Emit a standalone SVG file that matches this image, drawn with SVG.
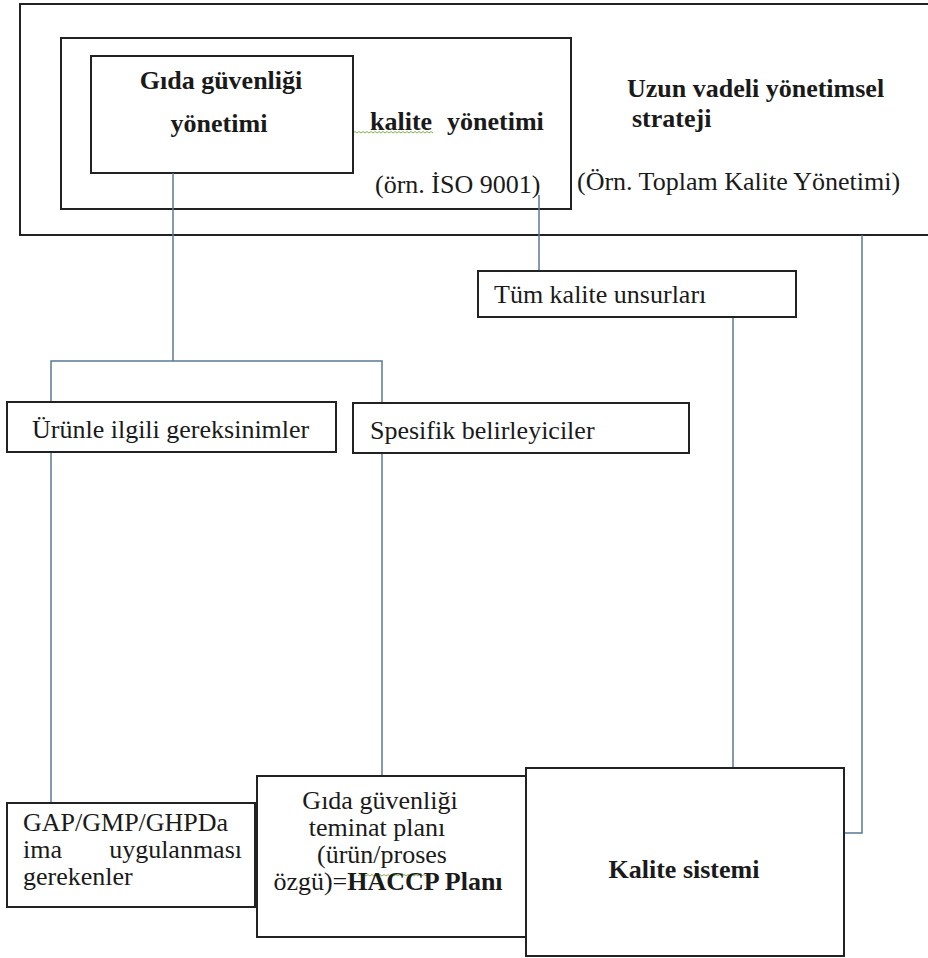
<svg xmlns="http://www.w3.org/2000/svg" width="928" height="958" viewBox="0 0 928 958">
<style>
.box{fill:#fff;stroke:#222;stroke-width:2}
.frame{fill:none;stroke:#222;stroke-width:2}
text{font-family:'Liberation Serif','DejaVu Serif',serif;font-size:26px;fill:#1a1a1a}
.b{font-weight:bold}
.c{text-anchor:middle}
.e{text-anchor:end}
.con{fill:none;stroke:#5b7896;stroke-width:1.5}
.sq{fill:none;stroke:#7fb34a;stroke-width:1}
</style>
<rect width="928" height="958" fill="#fff"/>
<g id="strategy">
<rect class="frame" x="20" y="4" width="930" height="231"/>
<text class="b" x="627" y="97">Uzun vadeli yönetimsel</text>
<text class="b" x="632" y="127">strateji</text>
<text x="577" y="190">(Örn. Toplam Kalite Yönetimi)</text>
</g>
<g id="quality-management">
<rect class="frame" x="61" y="38" width="510" height="171"/>
<text class="b" y="130"><tspan x="370">kalite</tspan><tspan x="447">yönetimi</tspan></text>
<path class="sq" d="M353 133 l2 -1.5 l2 1.5 l2 -1.5 l2 1.5 l2 -1.5 l2 1.5 l2 -1.5 l2 1.5 l2 -1.5 l2 1.5 l2 -1.5 l2 1.5 l2 -1.5 l2 1.5 l2 -1.5 l2 1.5 l2 -1.5 l2 1.5 l2 -1.5 l2 1.5 l2 -1.5 l2 1.5 l2 -1.5 l2 1.5 l2 -1.5 l2 1.5 l2 -1.5 l2 1.5 l2 -1.5 l2 1.5 l2 -1.5 l2 1.5 l2 -1.5 l2 1.5 l2 -1.5 l2 1.5 l2 -1.5 l2 1.5 l2 -1.5 l2 1.5"/>
<text x="375" y="193">(örn. İSO 9001)</text>
</g>
<g id="food-safety-management">
<rect class="box" x="91" y="56" width="262" height="117"/>
<text class="b c" x="221" y="89">Gıda güvenliği</text>
<text class="b c" x="219" y="132">yönetimi</text>
</g>
<g id="connectors">
<path class="con" d="M173 173 V361"/>
<path class="con" d="M51 402 V361 H382 V403"/>
<path class="con" d="M539 195 V271"/>
<path class="con" d="M51 452 V803"/>
<path class="con" d="M382 453 V777"/>
<path class="con" d="M733 317 V768"/>
<path class="con" d="M862 235 V833 H844"/>
</g>
<g id="all-quality-elements">
<rect class="box" x="478" y="271" width="318" height="46"/>
<text x="494" y="303">Tüm kalite unsurları</text>
</g>
<g id="product-requirements">
<rect class="box" x="7" y="402" width="329" height="50"/>
<text x="32" y="438">Ürünle ilgili gereksinimler</text>
</g>
<g id="specific-determinants">
<rect class="box" x="353" y="403" width="336" height="50"/>
<text x="370" y="439">Spesifik belirleyiciler</text>
</g>
<g id="gap-gmp-ghp">
<rect class="box" x="7" y="803" width="248" height="104"/>
<text x="23" y="831">GAP/GMP/GHPDa</text>
<text x="23" y="858">ima</text>
<text class="e" x="242" y="858">uygulanması</text>
<text x="23" y="885">gerekenler</text>
</g>
<g id="haccp-plan">
<rect class="box" x="257" y="776" width="269" height="161"/>
<text class="c" x="380" y="809">Gıda güvenliği</text>
<text class="c" x="377" y="836">teminat planı</text>
<text class="c" x="382" y="863">(ürün/proses</text>
<path class="sq" d="M358 876 l2 -1.5 l2 1.5 l2 -1.5 l2 1.5 l2 -1.5 l2 1.5 l2 -1.5 l2 1.5 l2 -1.5 l2 1.5 l2 -1.5 l2 1.5 l2 -1.5 l2 1.5 l2 -1.5 l2 1.5 l2 -1.5 l2 1.5 l2 -1.5 l2 1.5 l2 -1.5 l2 1.5 l2 -1.5 l2 1.5 l2 -1.5 l2 1.5 l2 -1.5 l2 1.5 l2 -1.5 l2 1.5 l2 -1.5 l2 1.5 l2 -1.5 l2 1.5 l2 -1.5 l2 1.5"/>
<text class="c" x="388" y="890">özgü)=<tspan class="b">HACCP Planı</tspan></text>
</g>
<g id="quality-system">
<rect class="box" x="526" y="768" width="318" height="188"/>
<text class="b c" x="684" y="878">Kalite sistemi</text>
</g>
</svg>
